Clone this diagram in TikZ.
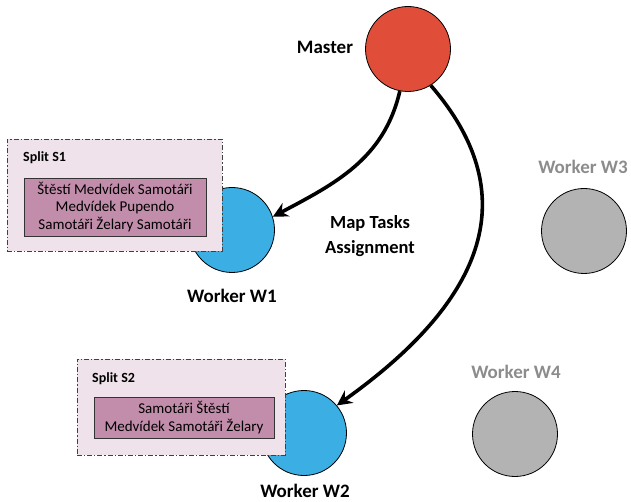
\documentclass[tikz,border=0pt]{standalone}
\usepackage{fontspec}
\setmainfont{Carlito}
\usetikzlibrary{arrows.meta}
\definecolor{masterred}{HTML}{E04E39}
\definecolor{wblue}{HTML}{3BAEE3}
\definecolor{wgray}{HTML}{B3B3B3}
\definecolor{tgray}{HTML}{8C8C8C}
\definecolor{splitbg}{HTML}{EFE2EA}
\definecolor{splitin}{HTML}{C28DAB}
\tikzset{
  worker/.style={circle, draw=black, line width=0.8pt, minimum size=85pt, inner sep=0pt},
  lbl/.style={font=\fontsize{19}{22}\selectfont\bfseries, inner sep=0pt},
  splitbox/.style={draw=black!75, dash pattern=on 5pt off 2pt on 1.2pt off 2pt, line width=0.9pt, fill=splitbg},
  splitinner/.style={draw=black!80, line width=0.9pt, fill=splitin, align=center, font=\fontsize{15}{17.5}\selectfont, inner sep=0pt},
  splitlbl/.style={font=\fontsize{14}{16}\selectfont\bfseries, inner sep=0pt, anchor=west},
  arr/.style={line width=3.6pt, -{Stealth[length=15pt, width=15pt, inset=5pt]}}
}
\begin{document}
\begin{tikzpicture}[x=1pt,y=-1pt]
\useasboundingbox (0,0) rectangle (631,502);
% nodes
\node[worker, fill=masterred] (m) at (408,49) {};
\node[lbl] (mlbl) at (325,47) {Master};
\node[worker, fill=wblue] (w1) at (232,230) {};
\node[worker, fill=wblue] (w2) at (304,433) {};
\node[worker, fill=wgray] (w3) at (584,231) {};
\node[worker, fill=wgray] (w4) at (515,434) {};
\node[lbl] (w1lbl) at (232,296) {Worker W1};
\node[lbl] (w2lbl) at (305,491) {Worker W2};
\node[lbl, text=tgray] (w3lbl) at (583,167) {Worker W3};
\node[lbl, text=tgray] (w4lbl) at (516,372) {Worker W4};
\node[lbl, align=center, font=\fontsize{18.5}{25}\selectfont\bfseries] (maplbl) at (370,236) {Map Tasks\\Assignment};
% split boxes
\node[splitbox, minimum width=215pt, minimum height=112pt, inner sep=0pt] (s1) at (114.5,195.5) {};
\node[splitlbl] (s1lbl) at (23,158) {Split S1};
\node[splitinner, minimum width=182pt, minimum height=58pt] (s1in) at (115,207) {Štěstí Medvídek Samotáři\\Medvídek Pupendo\\Samotáři Želary Samotáři};
\node[splitbox, minimum width=208pt, minimum height=96pt, inner sep=0pt] (s2) at (181,407) {};
\node[splitlbl] (s2lbl) at (92,379) {Split S2};
\node[splitinner, minimum width=180pt, minimum height=41pt] (s2in) at (184,417.5) {Samotáři Štěstí\\Medvídek Samotáři Želary};
% connectors
\draw[arr] (m.259) to[out=257, in=28] (w1.18);
\draw[arr] (m.302) .. controls (530,200) and (478,305) .. (w2.40);
\end{tikzpicture}
\end{document}
